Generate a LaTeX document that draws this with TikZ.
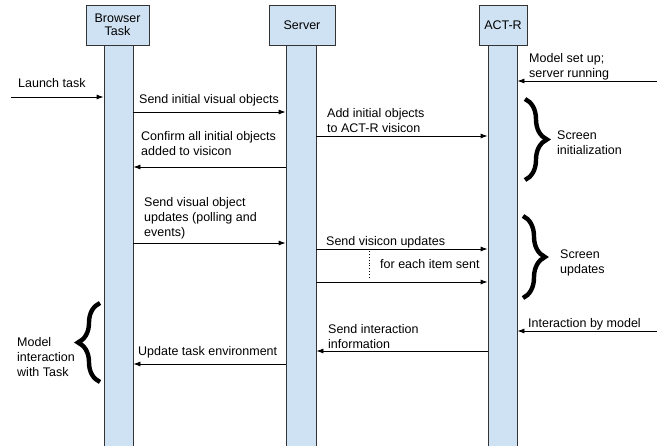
\documentclass[tikz,border=0pt]{standalone}
\usepackage{fontspec}
\setmainfont{Liberation Sans}
\usetikzlibrary{arrows.meta,decorations.pathreplacing}
\definecolor{barblue}{HTML}{CFE2F3}
\definecolor{edgegray}{HTML}{333333}
\begin{document}
\begin{tikzpicture}[x=1pt,y=-1pt,
  font=\fontsize{12.5}{15}\selectfont,
  hdr/.style={draw=edgegray, fill=barblue, line width=0.8pt, inner sep=0pt, align=center,
    font=\fontsize{12.5}{13.5}\selectfont},
  lifebar/.style={draw=edgegray, fill=barblue, line width=0.8pt, inner sep=0pt,
    minimum height=405pt, anchor=north},
  msg/.style={-{Latex[length=7pt,width=5pt]}, line width=0.8pt},
  lbl/.style={anchor=north west, align=left, inner sep=0pt},
  brc/.style={decorate, decoration={brace, amplitude=#1}, line width=4.4pt, line cap=butt},
  brc/.default=22pt]
\useasboundingbox (0,0) rectangle (657,446);

% lifelines
\node[lifebar, minimum width=29pt] (bB) at (118.5,45) {};
\node[lifebar, minimum width=30pt] (bS) at (301,45) {};
\node[lifebar, minimum width=29pt] (bA) at (502.5,45) {};

% headers
\node[hdr, minimum width=63pt, minimum height=40pt] (hB) at (117.5,25) {Browser\\Task};
\node[hdr, minimum width=66pt, minimum height=40pt] (hS) at (302,25) {Server};
\node[hdr, minimum width=48pt, minimum height=40pt] (hA) at (503,25) {ACT-R};

% free ends
\coordinate (launch) at (11,97);
\coordinate (setup) at (657,81);
\coordinate (interact) at (657,331);

% messages
\draw[msg] (launch) -- (bB.west |- launch);
\node[lbl] (tLaunch) at (18,78) {Launch task};

\draw[msg] (bB.east |- 0,112) -- (bS.west |- 0,112);
\node[lbl] (tSend) at (139,94) {Send initial visual objects};

\draw[msg] (bS.east |- 0,136) -- (bA.west |- 0,136);
\node[lbl] (tAdd) at (327,108) {Add initial objects\\to ACT-R visicon};

\draw[msg] (bS.west |- 0,167) -- (bB.east |- 0,167);
\node[lbl] (tConfirm) at (141,131) {Confirm all initial objects\\added to visicon};

\draw[msg] (setup) -- (bA.east |- setup);
\node[lbl] (tSetup) at (529,53) {Model set up;\\server running};

\draw[brc] (525,99) -- (525,180);
\node[lbl] (tInit) at (557,131) {Screen\\initialization};

\draw[msg] (bB.east |- 0,243) -- (bS.west |- 0,243);
\node[lbl] (tUpd) at (144,197) {Send visual object\\updates (polling and\\events)};

\draw[msg] (bS.east |- 0,249) -- (bA.west |- 0,249);
\node[lbl] (tVis) at (326,236) {Send visicon updates};
\draw[msg] (bS.east |- 0,282) -- (bA.west |- 0,282);
\coordinate (dotA) at (369,251);
\coordinate (dotB) at (369,278);
\draw[dotted, line width=0.9pt] (dotA) -- (dotB);
\node[lbl] (tEach) at (380,259) {for each item sent};

\draw[brc] (523,216) -- (523,298);
\node[lbl] (tScr) at (560,250) {Screen\\updates};

\draw[msg] (interact) -- (bA.east |- interact);
\node[lbl] (tInter) at (528,318) {Interaction by model};

\draw[msg] (bA.west |- 0,351) -- (bS.east |- 0,351);
\node[lbl] (tInfo) at (328,324) {Send interaction\\information};

\draw[msg] (bS.west |- 0,364) -- (bB.east |- 0,364);
\node[lbl] (tEnv) at (138,346) {Update task environment};

\draw[brc] (100,382) -- (100,303);
\node[lbl] (tModel) at (17,337) {Model\\interaction\\with Task};
\end{tikzpicture}
\end{document}
